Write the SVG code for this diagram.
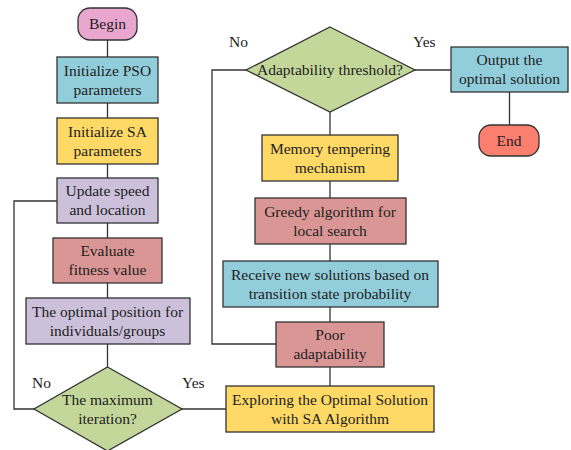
<svg xmlns="http://www.w3.org/2000/svg" width="571" height="450" viewBox="0 0 571 450">
  <style>
    .box { stroke: #333; stroke-width: 1.3; }
    .wire { fill: none; stroke: #333; stroke-width: 1.3; }
    text { font-family: "Liberation Serif", "Times New Roman", serif; font-size: 15.5px; fill: #222; text-anchor: middle; }
    .lbl { text-anchor: start; }
    .pink { fill: #E9A6CE; }
    .blue { fill: #92CDDC; }
    .yellow { fill: #FFD966; }
    .purple { fill: #CCC0DA; }
    .rose { fill: #DA9694; }
    .green { fill: #C4D79B; }
    .salmon { fill: #FA7F6F; }
  </style>
  <rect width="571" height="450" fill="#fff"/>

  <!-- connectors -->
  <g id="connectors">
    <line class="wire" x1="107.5" y1="40" x2="107.5" y2="57"/>
    <line class="wire" x1="107.5" y1="103" x2="107.5" y2="118"/>
    <line class="wire" x1="107.5" y1="164" x2="107.5" y2="178"/>
    <line class="wire" x1="107.5" y1="223" x2="107.5" y2="238"/>
    <line class="wire" x1="107.5" y1="283" x2="107.5" y2="298"/>
    <line class="wire" x1="107.5" y1="344" x2="107.5" y2="367"/>
    <polyline class="wire" points="34,409 14,409 14,201 57,201"/>
    <line class="wire" x1="182" y1="409" x2="226" y2="409"/>
    <line class="wire" x1="330" y1="386" x2="330" y2="367"/>
    <line class="wire" x1="330" y1="322" x2="330" y2="307"/>
    <line class="wire" x1="330" y1="261" x2="330" y2="244"/>
    <line class="wire" x1="330" y1="198" x2="330" y2="181"/>
    <line class="wire" x1="330" y1="135" x2="330" y2="112"/>
    <polyline class="wire" points="276,344 212,344 212,70 246,70"/>
    <line class="wire" x1="415" y1="70" x2="451" y2="70"/>
    <line class="wire" x1="509.5" y1="92" x2="509.5" y2="125"/>
    <text class="lbl" x="32" y="388">No</text>
    <text class="lbl" x="182" y="388">Yes</text>
    <text class="lbl" x="229" y="47">No</text>
    <text class="lbl" x="413" y="47">Yes</text>
  </g>

  <g id="begin">
    <rect class="box pink" x="78" y="8" width="59" height="32" rx="12"/>
    <text x="107.5" y="29">Begin</text>
  </g>
  <g id="init-pso">
    <rect class="box blue" x="57" y="57" width="101" height="46"/>
    <text x="107.5" y="75.5">Initialize PSO</text>
    <text x="107.5" y="94.5">parameters</text>
  </g>
  <g id="init-sa">
    <rect class="box yellow" x="57" y="118" width="101" height="46"/>
    <text x="107.5" y="136.5">Initialize SA</text>
    <text x="107.5" y="155.5">parameters</text>
  </g>
  <g id="update">
    <rect class="box purple" x="57" y="178" width="101" height="45"/>
    <text x="107.5" y="196">Update speed</text>
    <text x="107.5" y="215">and location</text>
  </g>
  <g id="evaluate">
    <rect class="box rose" x="53" y="238" width="109" height="45"/>
    <text x="107.5" y="256">Evaluate</text>
    <text x="107.5" y="275">fitness value</text>
  </g>
  <g id="optimal-position">
    <rect class="box purple" x="26" y="298" width="164" height="46"/>
    <text x="107.5" y="316.5">The optimal position for</text>
    <text x="107.5" y="335.5">individuals/groups</text>
  </g>
  <g id="max-iteration">
    <polygon class="box green" points="107.5,367 182,409 107.5,451 34,409"/>
    <text x="107.5" y="404.5">The maximum</text>
    <text x="107.5" y="423.5">iteration?</text>
  </g>
  <g id="explore-sa">
    <rect class="box yellow" x="226" y="386" width="208" height="46"/>
    <text x="330" y="404.5">Exploring the Optimal Solution</text>
    <text x="330" y="423.5">with SA Algorithm</text>
  </g>
  <g id="poor-adaptability">
    <rect class="box rose" x="276" y="322" width="108" height="45"/>
    <text x="330" y="340">Poor</text>
    <text x="330" y="359">adaptability</text>
  </g>
  <g id="receive">
    <rect class="box blue" x="223" y="261" width="215" height="46"/>
    <text x="330" y="279.5">Receive new solutions based on</text>
    <text x="330" y="298.5">transition state probability</text>
  </g>
  <g id="greedy">
    <rect class="box rose" x="255" y="198" width="151" height="46"/>
    <text x="330" y="216.5">Greedy algorithm for</text>
    <text x="330" y="235.5">local search</text>
  </g>
  <g id="memory">
    <rect class="box yellow" x="262" y="135" width="136" height="46"/>
    <text x="330" y="153.5">Memory tempering</text>
    <text x="330" y="172.5">mechanism</text>
  </g>
  <g id="adaptability-threshold">
    <polygon class="box green" points="330,27 415,70 330,112 246,70"/>
    <text x="330" y="75">Adaptability threshold?</text>
  </g>
  <g id="output">
    <rect class="box blue" x="451" y="47" width="117" height="45"/>
    <text x="509.5" y="65">Output the</text>
    <text x="509.5" y="84">optimal solution</text>
  </g>
  <g id="end">
    <rect class="box salmon" x="479" y="125" width="60" height="31" rx="12"/>
    <text x="509" y="145.5">End</text>
  </g>
</svg>
